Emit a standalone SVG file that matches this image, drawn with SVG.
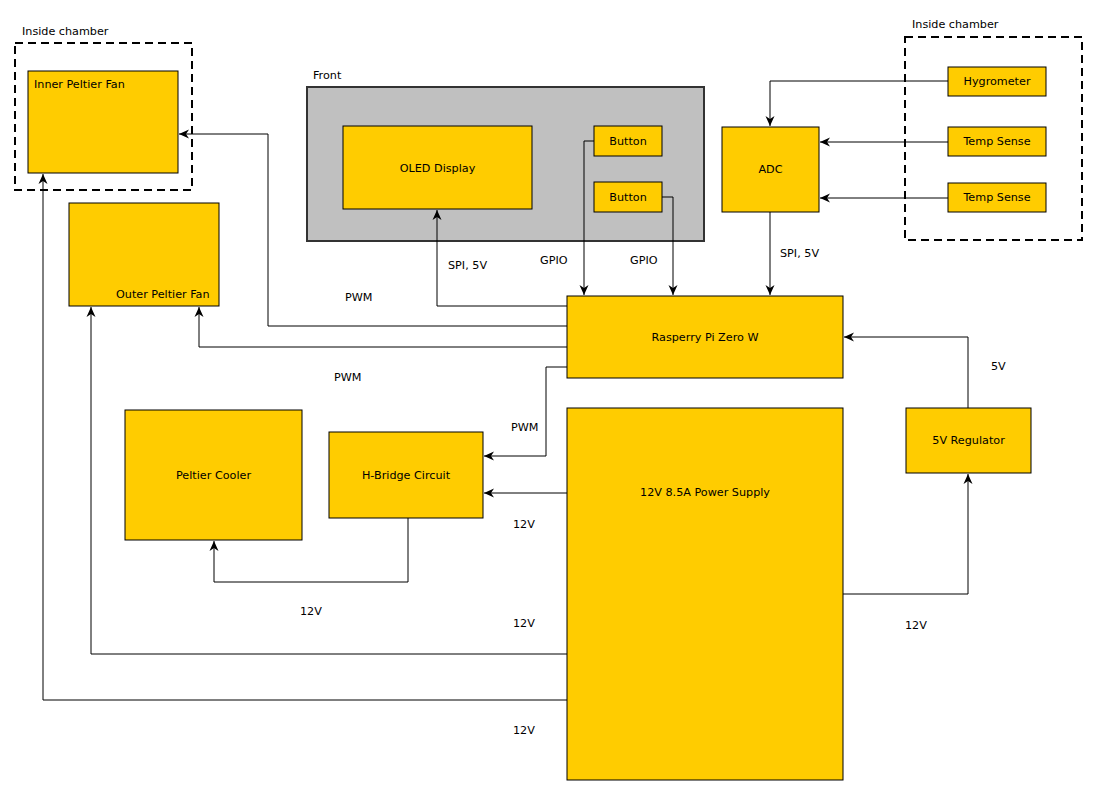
<svg xmlns="http://www.w3.org/2000/svg" width="1098" height="796" viewBox="0 0 1098 796">
<defs>
<marker id="arr" viewBox="0 0 10 10" refX="10" refY="5" markerWidth="10" markerHeight="10" markerUnits="userSpaceOnUse" orient="auto">
<path d="M0,0.5 L10,5 L0,9.5 L3,5 z" fill="#000"/>
</marker>
<style>
.n{fill:#ffcc00;stroke:#000;stroke-width:1}
.t{font-family:"DejaVu Sans",sans-serif;font-size:11.2px;fill:#000}
.m{text-anchor:middle}
.c{fill:none;stroke:#000;stroke-width:1;marker-end:url(#arr)}
.d{fill:none;stroke:#000;stroke-width:2;stroke-dasharray:8,5}
</style>
</defs>
<rect width="1098" height="796" fill="#fff"/>

<g id="chamber-left">
<rect class="d" x="15" y="43" width="177" height="147"/>
<text class="t" x="22" y="35">Inside chamber</text>
</g>
<g id="chamber-right">
<rect class="d" x="905" y="37" width="177" height="203"/>
<text class="t" x="912" y="28">Inside chamber</text>
</g>
<g id="front">
<rect x="307" y="87" width="397" height="154" fill="#c0c0c0" stroke="#333" stroke-width="2"/>
<text class="t" x="313" y="79">Front</text>
</g>

<g id="inner-fan"><rect class="n" x="28" y="71" width="150" height="102"/><text class="t" x="34" y="88">Inner Peltier Fan</text></g>
<g id="outer-fan"><rect class="n" x="69" y="203" width="150" height="103"/><text class="t" x="116" y="298">Outer Peltier Fan</text></g>
<g id="oled"><rect class="n" x="343" y="126" width="189" height="83"/><text class="t m" x="437.5" y="172">OLED Display</text></g>
<g id="button1"><rect class="n" x="594" y="126" width="68" height="30"/><text class="t m" x="628" y="145">Button</text></g>
<g id="button2"><rect class="n" x="594" y="182" width="68" height="30"/><text class="t m" x="628" y="201">Button</text></g>
<g id="adc"><rect class="n" x="722" y="127" width="97" height="85"/><text class="t m" x="770.5" y="173">ADC</text></g>
<g id="hygrometer"><rect class="n" x="948" y="67" width="98" height="29"/><text class="t m" x="997" y="85">Hygrometer</text></g>
<g id="temp1"><rect class="n" x="948" y="127" width="98" height="29"/><text class="t m" x="997" y="145">Temp Sense</text></g>
<g id="temp2"><rect class="n" x="948" y="183" width="98" height="29"/><text class="t m" x="997" y="201">Temp Sense</text></g>
<g id="rpi"><rect class="n" x="567" y="296" width="276" height="82"/><text class="t m" x="705" y="341">Rasperry Pi Zero W</text></g>
<g id="psu"><rect class="n" x="567" y="408" width="276" height="372"/><text class="t m" x="705" y="496">12V 8.5A Power Supply</text></g>
<g id="regulator"><rect class="n" x="906" y="408" width="125" height="65"/><text class="t m" x="968.5" y="444">5V Regulator</text></g>
<g id="cooler"><rect class="n" x="125" y="410" width="177" height="130"/><text class="t m" x="213.5" y="479">Peltier Cooler</text></g>
<g id="hbridge"><rect class="n" x="329" y="432" width="154" height="86"/><text class="t m" x="406" y="479">H-Bridge Circuit</text></g>

<g id="connectors">
<path class="c" d="M567,306 H437 V210"/>
<path class="c" d="M594,141 H584 V295"/>
<path class="c" d="M662,197 H673 V295"/>
<path class="c" d="M567,326 H268 V134 H179"/>
<path class="c" d="M567,347 H199 V307"/>
<path class="c" d="M567,367 H546 V456 H484"/>
<path class="c" d="M567,493 H484"/>
<path class="c" d="M408,518 V582 H214 V541"/>
<path class="c" d="M567,654 H91 V307"/>
<path class="c" d="M567,700 H43 V174"/>
<path class="c" d="M843,594 H968 V474"/>
<path class="c" d="M968,408 V337 H844"/>
<path class="c" d="M948,81 H770 V126"/>
<path class="c" d="M948,142 H820"/>
<path class="c" d="M948,198 H820"/>
<path class="c" d="M770,212 V295"/>
</g>

<g id="labels">
<text class="t" x="448" y="269">SPI, 5V</text>
<text class="t" x="540" y="264">GPIO</text>
<text class="t" x="630" y="264">GPIO</text>
<text class="t" x="780" y="257">SPI, 5V</text>
<text class="t" x="345" y="301">PWM</text>
<text class="t" x="334" y="381">PWM</text>
<text class="t" x="511" y="431">PWM</text>
<text class="t" x="991" y="370">5V</text>
<text class="t" x="513" y="528">12V</text>
<text class="t" x="300" y="615">12V</text>
<text class="t" x="513" y="627">12V</text>
<text class="t" x="905" y="629">12V</text>
<text class="t" x="513" y="734">12V</text>
</g>
</svg>
